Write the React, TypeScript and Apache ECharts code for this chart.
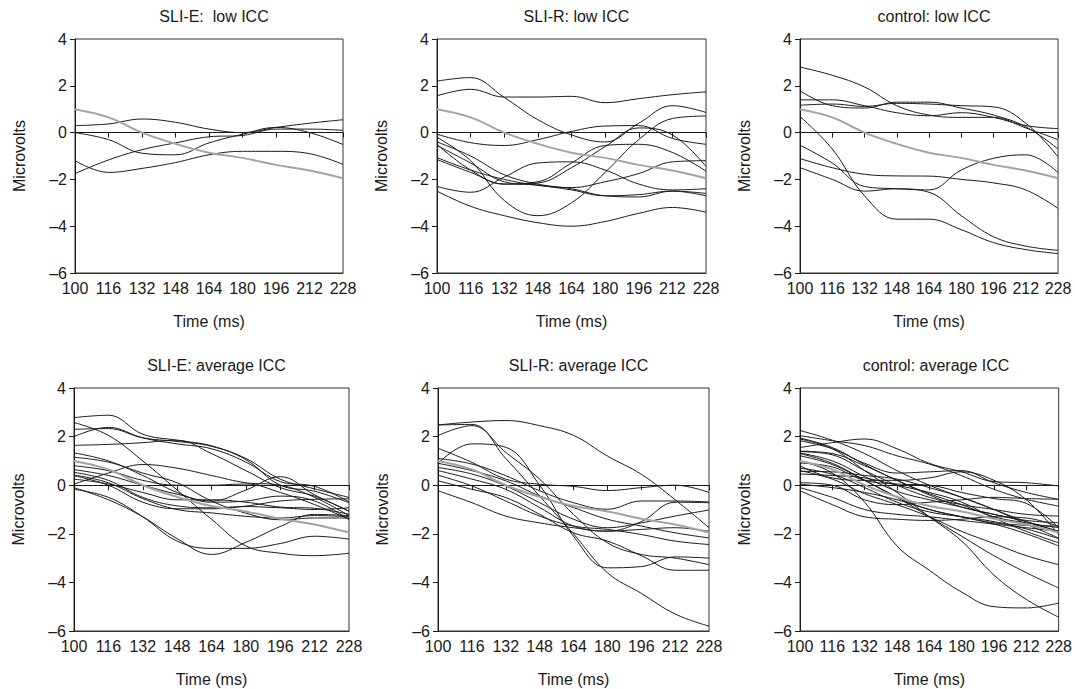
import React, { useEffect, useRef } from "react";
import * as echarts from "echarts";

const timePoints = [100, 116, 132, 148, 164, 180, 196, 212, 228];
const panelTitles = [
  "SLI-E:  low ICC",
  "SLI-R: low ICC",
  "control: low ICC",
  "SLI-E: average ICC",
  "SLI-R: average ICC",
  "control: average ICC",
];

const grandMean = [1.0, 0.65, 0.0, -0.48, -0.86, -1.08, -1.38, -1.62, -1.95];

const sliELow = [
  [0.3, 0.37, 0.58, 0.44, 0.15, 0.0, 0.22, 0.4, 0.55],
  [0.0, -0.3, -0.88, -0.95, -0.44, -0.07, 0.22, 0.0, -0.51],
  [-1.2, -1.7, -1.53, -1.28, -0.95, -0.8, -0.8, -0.9, -1.36],
  [-1.75, -1.17, -0.73, -0.44, -0.18, -0.12, 0.15, 0.15, 0.1],
];

const sliRLow = [
  [2.2, 2.35, 1.5, 0.55, -0.1, -0.4, 0.4, 1.15, 0.86],
  [1.57, 1.85, 1.52, 1.52, 1.55, 1.28, 1.45, 1.62, 1.74],
  [-0.07, -0.43, -0.55, -0.3, 0.05, 0.28, 0.3, -0.25, -0.5],
  [-0.2, -1.2, -2.9, -3.55, -3.0, -1.7, -0.3, 0.6, 0.71],
  [-0.5, -1.6, -2.2, -2.15, -1.5, -0.6, 0.2, -0.1, -1.45],
  [-2.3, -2.55, -1.9, -1.3, -1.25, -1.6, -2.2, -2.45, -2.4],
  [-0.55, -1.3, -2.1, -2.25, -2.45, -2.7, -2.65, -2.5, -2.6],
  [-1.07, -1.6, -2.0, -2.25, -2.35, -2.1, -1.75, -1.25, -1.2],
  [-1.15, -1.7, -2.2, -2.1, -1.3, -0.55, -0.5, -0.85, -1.65],
  [-2.5, -3.15, -3.55, -3.85, -4.0, -3.8, -3.45, -3.2, -3.4],
  [-0.4, -1.0, -1.8, -2.2, -2.4, -2.7, -2.75, -2.5, -2.7],
];

const controlLow = [
  [2.8, 2.45, 1.95, 1.15, 0.75, 0.65, 0.65, 0.2, -0.3],
  [1.79, 1.15, 1.05, 1.3, 1.3, 1.05, 0.75, 0.25, -0.7],
  [1.4, 1.4, 1.15, 0.85, 0.72, 0.85, 0.65, 0.3, 0.17],
  [1.17, 1.22, 1.12, 1.25, 1.22, 1.15, 1.1, 0.4, -1.03],
  [0.69, -0.7, -2.7, -3.7, -3.7, -4.15, -4.7, -5.0, -5.17],
  [-0.54, -1.3, -2.3, -2.4, -2.45, -1.6, -1.1, -0.95, -1.71],
  [-1.11, -1.5, -1.78, -1.85, -1.86, -2.0, -2.15, -2.45, -3.24],
  [-1.5, -2.0, -2.5, -2.4, -2.55, -3.55, -4.45, -4.85, -5.03],
];

const sliEAvg = [
  [2.78, 2.88, 2.1, 1.85, 1.62, 1.05, 0.0, -0.25, -0.72],
  [2.58, 2.05, 1.0, -0.2, -1.4, -2.5, -2.8, -2.9, -2.8],
  [2.3, 2.33, 1.95, 1.8, 1.6, 1.1, 0.25, -0.15, -0.5],
  [2.0, 2.38, 1.95, 1.7, 1.5, 0.95, 0.15, -0.05, -0.68],
  [1.64, 1.68, 1.75, 1.85, 1.3, 0.6, -0.1, -0.45, -1.07],
  [1.33, 1.0, 0.4, -0.3, -0.7, -0.65, -0.45, -0.65, -1.42],
  [1.15, 0.95, 0.5, 0.1, -0.65, -1.15, -1.42, -1.35, -1.35],
  [0.04, 0.5, 0.85, 0.7, 0.4, 0.1, 0.0, -0.5, -1.25],
  [-0.1, -0.6, -1.3, -2.2, -2.85, -2.35, -1.7, -1.2, -1.25],
  [-0.17, -0.5, -1.3, -2.3, -2.6, -2.6, -2.4, -2.1, -2.22],
  [0.39, 0.0, -0.7, -0.97, -0.97, -0.86, -0.65, -0.58, -0.56],
  [0.53, 0.2, -0.5, -0.85, -0.93, -0.88, -0.93, -1.0, -0.93],
  [0.64, 0.4, 0.0, -0.37, -0.65, -0.2, 0.35, -0.4, -1.07],
  [0.42, 0.1, -0.55, -1.0, -1.14, -1.28, -1.35, -1.25, -1.3],
  [0.8, 0.6, 0.2, 0.0, 0.0, 0.05, -0.3, -0.8, -1.4],
  [0.25, 0.05, -0.3, -0.6, -0.6, -0.7, -0.9, -0.95, -1.2],
];

const sliRAvg = [
  [2.48, 2.6, 2.66, 2.45, 2.05, 1.2, 0.45, -0.6, -1.75],
  [2.48, 2.5, 1.1, -0.45, -2.0, -3.6, -4.45, -5.3, -5.8],
  [2.04, 2.45, 1.35, 0.25, -1.2, -2.37, -2.85, -3.0, -3.27],
  [0.9, 1.7, 1.56, 0.0, -2.1, -3.4, -3.35, -2.95, -3.0],
  [1.52, 0.94, 0.25, 0.04, -0.05, -0.22, -0.1, 0.0, -0.3],
  [1.1, 0.87, 0.39, -0.23, -0.72, -0.99, -0.65, -0.65, -0.69],
  [0.9, 0.6, 0.18, -0.44, -0.92, -1.4, -1.68, -1.96, -2.17],
  [0.73, 0.46, -0.03, -0.72, -1.4, -1.75, -1.55, -1.27, -1.02],
  [0.6, 0.25, -0.17, -0.92, -1.68, -1.89, -1.5, -0.7, -0.72],
  [0.41, -0.03, -0.65, -1.27, -1.68, -1.82, -2.03, -2.3, -2.44],
  [0.18, -0.17, -0.51, -1.2, -1.96, -2.3, -2.9, -3.5, -3.5],
  [-0.23, -0.72, -1.27, -1.55, -1.75, -1.89, -1.82, -1.75, -1.9],
];

const controlAvg = [
  [2.25, 1.85, 1.3, 0.6, 0.0, -0.5, -1.0, -1.5, -1.9],
  [2.04, 1.83, 1.63, 1.21, 0.87, 0.39, -0.17, -0.58, -0.86],
  [1.94, 1.55, 0.85, 0.2, -0.35, -0.8, -1.3, -1.55, -1.75],
  [1.83, 1.5, 0.9, 0.5, 0.55, 0.6, 0.1, -0.3, -0.58],
  [1.55, 1.75, 1.9, 1.5, 0.9, 0.55, 0.15, 0.1, -0.03],
  [1.38, 1.25, 0.6, 0.0, -0.5, -0.8, -1.0, -1.2, -1.27],
  [1.32, 1.0, 0.35, -0.25, -0.6, -0.9, -1.2, -1.45, -1.54],
  [1.21, 0.85, 0.2, -0.5, -1.0, -1.3, -1.55, -1.65, -1.68],
  [0.91, 0.75, 0.2, 0.05, 0.0, -0.3, -0.55, -0.75, -1.75],
  [0.8, 0.3, 0.2, 0.2, 0.3, 0.55, 0.2, -0.6, -2.03],
  [0.57, 0.55, 0.4, 0.25, -0.1, -0.5, -1.0, -1.6, -2.17],
  [0.46, 0.4, 0.3, 0.0, -0.3, -0.7, -1.35, -1.9, -2.37],
  [0.04, -0.1, -0.3, -0.6, -1.0, -1.3, -1.6, -2.0, -2.5],
  [-0.1, -0.5, -1.0, -1.2, -1.3, -1.45, -1.6, -1.75, -1.9],
  [-0.23, -0.8, -1.3, -1.4, -1.45, -1.4, -1.3, -1.35, -1.7],
  [0.1, 0.0, -0.6, -0.8, -0.7, -0.6, -0.5, -0.55, -0.58],
  [1.0, 0.5, -0.7, -2.5, -3.5, -4.4, -5.0, -5.05, -4.85],
  [1.9, 1.5, 0.6, -0.3, -1.3, -2.3, -3.7, -4.7, -5.43],
  [1.3, 0.9, 0.2, -0.5, -1.3, -2.1, -2.9, -3.6, -4.23],
  [0.6, 0.25, -0.35, -0.8, -1.3, -1.9, -2.4, -2.9, -3.27],
  [1.4, 1.3, 0.8, 0.2, -0.4, -0.9, -1.2, -1.5, -1.9],
  [0.7, 0.45, -0.1, -0.7, -1.1, -1.3, -1.5, -1.8, -2.2],
];

const panelData = [sliELow, sliRLow, controlLow, sliEAvg, sliRAvg, controlAvg];

const grids = [
  { left: 75, top: 39, width: 268, height: 234 },
  { left: 437, top: 39, width: 269, height: 234 },
  { left: 800, top: 39, width: 258, height: 234 },
  { left: 74, top: 388, width: 275, height: 243 },
  { left: 438, top: 388, width: 271, height: 243 },
  { left: 800, top: 388, width: 262, height: 243 },
];

const FONT = "'Liberation Sans', Arial, Helvetica, sans-serif";
const TXT = "#1a1a1a";

export default function App() {
  const ref = useRef<HTMLDivElement>(null);
  useEffect(() => {
    if (!ref.current) return;
    const chart = echarts.init(ref.current, undefined, { renderer: "svg" });
    const xAxis: any[] = [];
    const yAxis: any[] = [];
    const series: any[] = [];
    const title: any[] = [];
    grids.forEach((g, p) => {
      title.push({
        text: panelTitles[p],
        left: g.left + g.width / 2,
        top: g.top - 36,
        textAlign: "center",
        textStyle: { fontFamily: FONT, fontSize: 16, fontWeight: "normal", color: TXT },
      });
      xAxis.push({
        type: "value",
        gridIndex: p,
        min: 100,
        max: 228,
        interval: 16,
        position: "bottom",
        name: "Time (ms)",
        nameLocation: "middle",
        nameGap: 40,
        nameTextStyle: { fontFamily: FONT, fontSize: 16, color: TXT },
        axisLine: { show: true, onZero: false, lineStyle: { color: "#333", width: 1 } },
        axisTick: { show: false },
        axisLabel: { fontFamily: FONT, fontSize: 16, color: TXT, margin: 7 },
        splitLine: { show: false },
      });
      xAxis.push({
        type: "value",
        gridIndex: p,
        min: 100,
        max: 228,
        interval: 16,
        position: "bottom",
        axisLine: { show: true, onZero: true, lineStyle: { color: "#1a1a1a", width: 1 } },
        axisTick: { show: true, inside: false, length: 5, lineStyle: { color: "#1a1a1a" } },
        axisLabel: { show: false },
        splitLine: { show: false },
      });
      yAxis.push({
        type: "value",
        gridIndex: p,
        min: -6,
        max: 4,
        interval: 2,
        name: "Microvolts",
        nameLocation: "middle",
        nameGap: 48,
        nameTextStyle: { fontFamily: FONT, fontSize: 16, color: TXT },
        axisLine: { show: true, onZero: false, lineStyle: { color: "#1a1a1a", width: 1 } },
        axisTick: { show: true, length: 5, lineStyle: { color: "#1a1a1a" } },
        axisLabel: {
          fontFamily: FONT,
          fontSize: 16,
          color: TXT,
          margin: 8,
          formatter: (v: number) => (v < 0 ? "\u2013" + Math.abs(v) : String(v)),
        },
        splitLine: { show: false },
      });
      panelData[p].forEach((line) => {
        series.push({
          type: "line",
          xAxisIndex: 2 * p,
          yAxisIndex: p,
          data: timePoints.map((t, i) => [t, line[i]]),
          smooth: 0.4,
          symbol: "none",
          silent: true,
          lineStyle: { color: "#1a1a1a", width: 1 },
          z: 2,
        });
      });
      series.push({
        type: "line",
        xAxisIndex: 2 * p,
        yAxisIndex: p,
        data: timePoints.map((t, i) => [t, grandMean[i]]),
        smooth: 0.4,
        symbol: "none",
        silent: true,
        lineStyle: { color: "#a3a3a3", width: 2 },
        z: 3,
      });
    });
    chart.setOption({
      animation: false,
      backgroundColor: "#ffffff",
      title,
      grid: grids.map((g) => ({ ...g, show: true, borderColor: "#333", borderWidth: 1, backgroundColor: "transparent" })),
      xAxis,
      yAxis,
      series,
    });
    return () => chart.dispose();
  }, []);
  return (
    <div
      ref={ref}
      style={{ position: "fixed", left: 0, top: 0, width: 1075, height: 689, background: "#fff" }}
    />
  );
}
